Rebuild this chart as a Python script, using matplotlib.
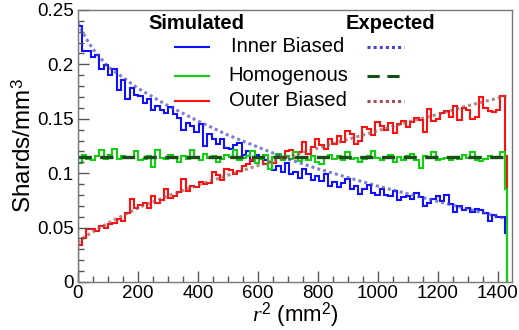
import numpy as np
import matplotlib
matplotlib.use("Agg")
import matplotlib.pyplot as plt
from matplotlib.ticker import MultipleLocator

plt.rcParams['font.family'] = ['Liberation Sans', 'DejaVu Sans']
plt.rcParams['mathtext.fontset'] = 'custom'
plt.rcParams['mathtext.rm'] = 'Liberation Sans'
plt.rcParams['mathtext.it'] = 'Liberation Serif:italic'

# ---- data ----
inner_sim = [
    0.235, 0.212, 0.212, 0.207, 0.209, 0.196, 0.199, 0.190, 0.196, 0.176,
    0.186, 0.168, 0.178, 0.172, 0.171, 0.164, 0.168, 0.158, 0.162, 0.158,
    0.155, 0.161, 0.154, 0.151, 0.140, 0.146, 0.143, 0.138, 0.145, 0.125,
    0.136, 0.131, 0.127, 0.131, 0.123, 0.122, 0.126, 0.128, 0.117, 0.120,
    0.111, 0.117, 0.113, 0.112, 0.110, 0.103, 0.107, 0.101, 0.109, 0.099,
    0.101, 0.096, 0.104, 0.099, 0.094, 0.097, 0.093, 0.099, 0.088, 0.092,
    0.087, 0.091, 0.095, 0.085, 0.088, 0.081, 0.085, 0.089, 0.082, 0.080,
    0.085, 0.080, 0.079, 0.084, 0.075, 0.078, 0.079, 0.076, 0.082, 0.078,
    0.070, 0.073, 0.076, 0.079, 0.074, 0.080, 0.072, 0.064, 0.070, 0.066,
    0.068, 0.064, 0.067, 0.066, 0.063, 0.056, 0.062, 0.060, 0.060, 0.045,
]
homog_sim = [
    0.109, 0.117, 0.113, 0.112, 0.116, 0.121, 0.113, 0.117, 0.122, 0.113,
    0.116, 0.114, 0.115, 0.120, 0.112, 0.113, 0.116, 0.106, 0.121, 0.114,
    0.113, 0.117, 0.114, 0.110, 0.116, 0.113, 0.121, 0.115, 0.112, 0.118,
    0.114, 0.116, 0.110, 0.113, 0.117, 0.115, 0.121, 0.112, 0.114, 0.116,
    0.120, 0.109, 0.113, 0.117, 0.104, 0.115, 0.118, 0.112, 0.116, 0.113,
    0.119, 0.111, 0.114, 0.112, 0.116, 0.110, 0.108, 0.115, 0.117, 0.113,
    0.116, 0.112, 0.119, 0.113, 0.114, 0.110, 0.113, 0.116, 0.120, 0.114,
    0.112, 0.114, 0.117, 0.110, 0.115, 0.112, 0.116, 0.118, 0.112, 0.105,
    0.116, 0.114, 0.119, 0.112, 0.113, 0.114, 0.112, 0.115, 0.113, 0.117,
    0.114, 0.119, 0.112, 0.111, 0.113, 0.116, 0.114, 0.115, 0.119, 0.085,
]
outer_sim = [
    0.034, 0.040, 0.049, 0.049, 0.047, 0.051, 0.050, 0.053, 0.054, 0.058,
    0.056, 0.063, 0.076, 0.068, 0.071, 0.073, 0.068, 0.079, 0.073, 0.075,
    0.085, 0.077, 0.079, 0.083, 0.095, 0.084, 0.088, 0.087, 0.092, 0.090,
    0.091, 0.101, 0.098, 0.094, 0.104, 0.103, 0.099, 0.102, 0.107, 0.108,
    0.112, 0.109, 0.114, 0.108, 0.110, 0.109, 0.117, 0.113, 0.120, 0.121,
    0.114, 0.119, 0.129, 0.118, 0.124, 0.131, 0.126, 0.122, 0.131, 0.127,
    0.134, 0.129, 0.139, 0.136, 0.127, 0.130, 0.142, 0.141, 0.135, 0.147,
    0.143, 0.140, 0.146, 0.137, 0.145, 0.148, 0.142, 0.147, 0.151, 0.149,
    0.138, 0.159, 0.148, 0.150, 0.155, 0.157, 0.152, 0.162, 0.149, 0.160,
    0.158, 0.150, 0.152, 0.170, 0.160, 0.157, 0.156, 0.158, 0.171, 0.116,
]
bin_edges = list(np.linspace(0, 1423, 100)) + [1430]

exp_r2 = [0, 25, 50, 100, 200, 300, 400, 500, 600, 700, 800, 900, 1000,
          1100, 1200, 1300, 1430]
inner_exp = [0.238, 0.225, 0.214, 0.198, 0.178, 0.162, 0.148, 0.135, 0.124,
             0.113, 0.104, 0.096, 0.088, 0.081, 0.074, 0.067, 0.058]
outer_exp = [0.036, 0.042, 0.046, 0.054, 0.068, 0.079, 0.089, 0.098, 0.107,
             0.115, 0.123, 0.131, 0.139, 0.147, 0.154, 0.162, 0.171]
homog_exp_r2 = [0, 1440]
homog_exp = [0.115, 0.115]

# ---- figure ----
fig = plt.figure(figsize=(5.19, 3.30), dpi=100)
ax = fig.add_axes([0.150, 0.1455, 0.8365, 0.8245])

c_blue, c_green, c_red = '#1010ff', '#10d010', '#ff1010'
c_eblue, c_egreen, c_ered = '#4848c8', '#1a4d1a', '#a05050'

ax.stairs(inner_sim, bin_edges, color=c_blue, lw=1.5, baseline=0)
ax.stairs(outer_sim, bin_edges, color=c_red, lw=1.5, baseline=0)
ax.stairs(homog_sim, bin_edges, color=c_green, lw=1.5, baseline=0)

ax.plot(exp_r2, inner_exp, color=c_eblue, lw=2.2, ls=(0, (1, 1)), alpha=0.7)
ax.plot(homog_exp_r2, homog_exp, color=c_egreen, lw=2.4, ls=(0, (4, 2.5)))
ax.plot(exp_r2, outer_exp, color=c_ered, lw=2.2, ls=(0, (1, 1)), alpha=0.7)

ax.set_xlim(0, 1447)
ax.set_ylim(0, 0.25)
ax.xaxis.set_major_locator(MultipleLocator(200))
ax.xaxis.set_minor_locator(MultipleLocator(50))
ax.yaxis.set_minor_locator(MultipleLocator(0.01))
ax.set_yticks([0, 0.05, 0.1, 0.15, 0.2, 0.25])
ax.set_yticklabels(['0', '0.05', '0.1', '0.15', '0.2', '0.25'])
ax.tick_params(which='both', direction='in', colors='#555555', labelcolor='black',
               labelsize=13.5, top=False, right=False)
ax.tick_params(which='major', length=8, width=1)
ax.tick_params(which='minor', length=4, width=1)
ax.tick_params(axis='x', pad=2)
ax.tick_params(axis='y', pad=3)
for s in ax.spines.values():
    s.set_color('#777777')
    s.set_linewidth(1.0)

ax.set_ylabel('Shards/mm$^{3}$', fontsize=17.5, labelpad=1)
ax.set_xlabel('$r^{2}$ (mm$^{2}$)', fontsize=16, labelpad=-1)

# ---- legend ----
tr = ax.transAxes
def axp(px, py):
    return ((px - 78) / 434.0, (282 - py) / 272.0)

hx, hy = axp(197, 24)
ax.text(hx, hy, 'Simulated', transform=tr, fontsize=14.5, fontweight='bold',
        ha='center', va='center')
hx, hy = axp(390, 24)
ax.text(hx, hy, 'Expected', transform=tr, fontsize=14.5, fontweight='bold',
        ha='center', va='center')

entries = [
    ('Inner Biased', c_blue, c_eblue, (0, (1, 1)), 47),
    ('Homogenous', c_green, c_egreen, (0, (4, 2.5)), 76),
    ('Outer Biased', c_red, c_ered, (0, (1, 1)), 101),
]
for label, cs, ce, ls, py in entries:
    x0, y0 = axp(175, py)
    x1, _ = axp(209, py)
    ax.plot([x0, x1], [y0, y0], transform=tr, color=cs, lw=1.5, clip_on=False)
    tx, _ = axp(288, py)
    ax.text(tx, y0, label, transform=tr, fontsize=14.5, ha='center', va='center')
    e0, _ = axp(367, py)
    e1, _ = axp(404, py)
    ax.plot([e0, e1], [y0, y0], transform=tr, color=ce, lw=2.2, ls=ls,
            clip_on=False)

fig.savefig('out.png', dpi=100)
